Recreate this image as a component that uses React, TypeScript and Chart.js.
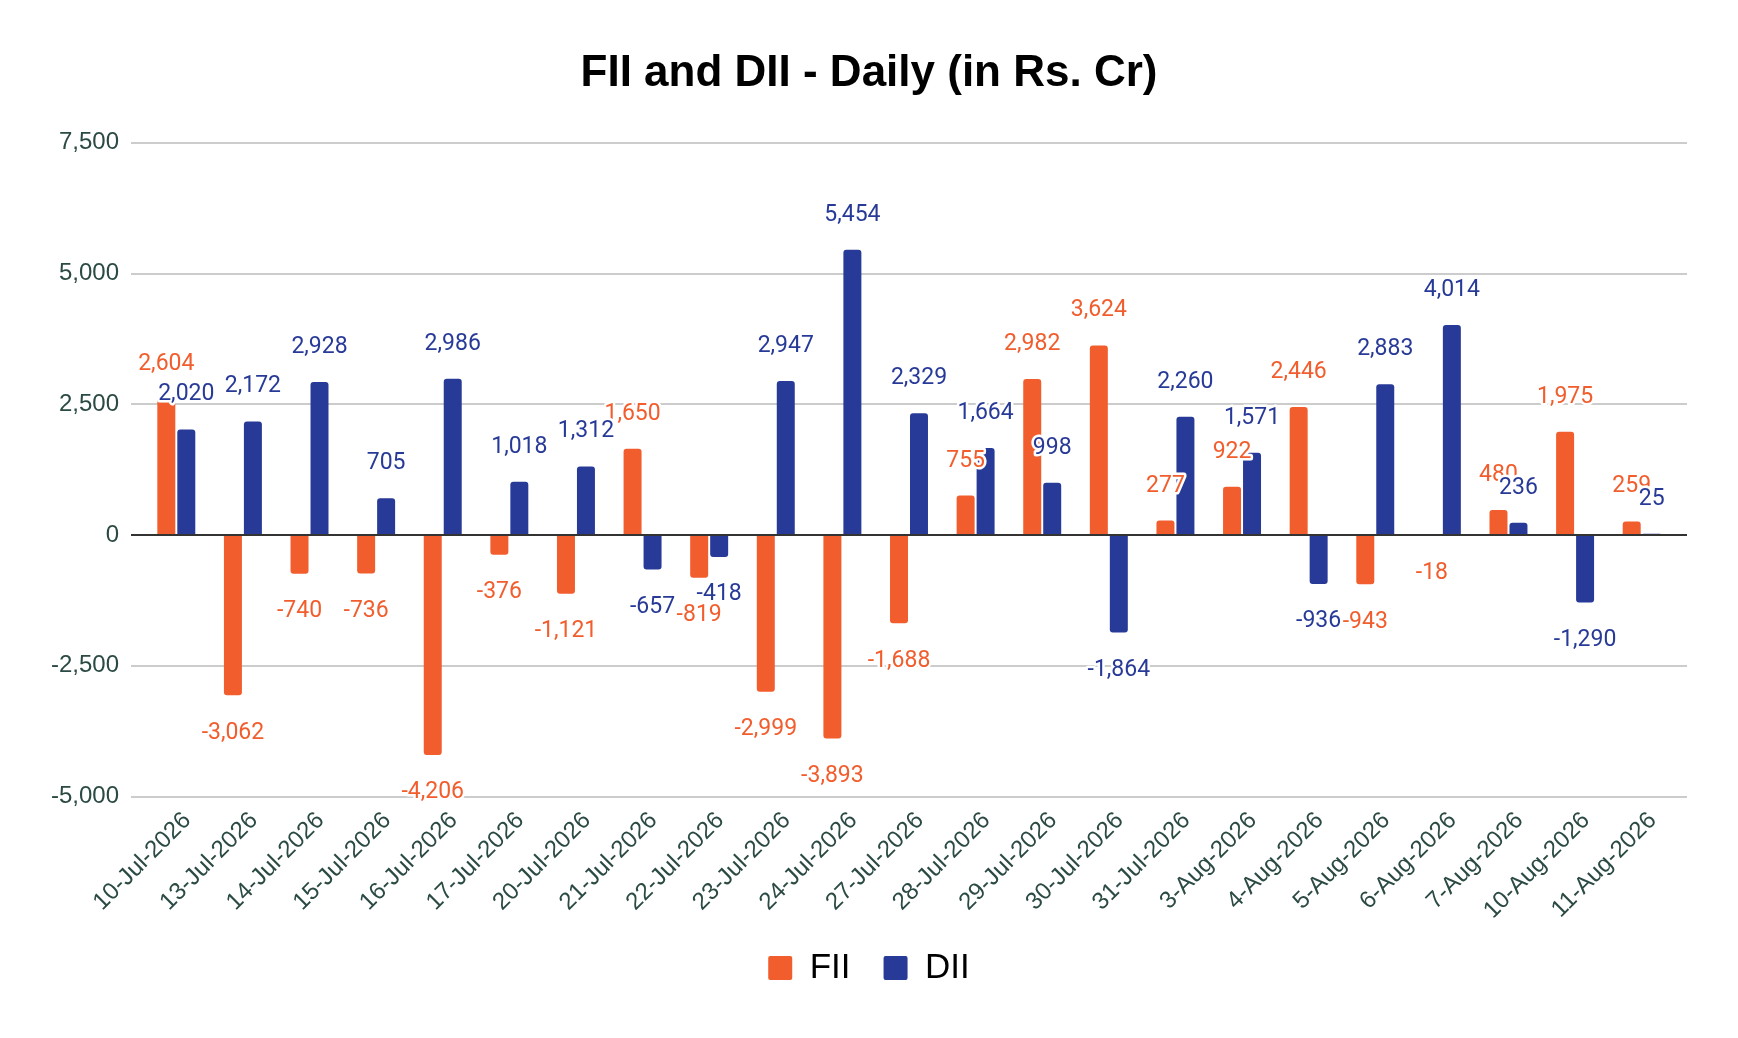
import { useEffect, useRef } from 'react';
import { Chart, registerables } from 'chart.js';

Chart.register(...registerables);

// daily net flows, Rs. Cr
const dates = [
  '10-Jul-2026', '13-Jul-2026', '14-Jul-2026', '15-Jul-2026', '16-Jul-2026', '17-Jul-2026',
  '20-Jul-2026', '21-Jul-2026', '22-Jul-2026', '23-Jul-2026', '24-Jul-2026', '27-Jul-2026',
  '28-Jul-2026', '29-Jul-2026', '30-Jul-2026', '31-Jul-2026', '3-Aug-2026', '4-Aug-2026',
  '5-Aug-2026', '6-Aug-2026', '7-Aug-2026', '10-Aug-2026', '11-Aug-2026',
];
const fiiValues = [
  2604, -3062, -740, -736, -4206, -376, -1121, 1650, -819, -2999, -3893, -1688,
  755, 2982, 3624, 277, 922, 2446, -943, -18, 480, 1975, 259,
];
const diiValues = [
  2020, 2172, 2928, 705, 2986, 1018, 1312, -657, -418, 2947, 5454, 2329,
  1664, 998, -1864, 2260, 1571, -936, 2883, 4014, 236, -1290, 25,
];
const yMin = -5000;
const yMax = 7500;
const yStep = 2500;

const FII_COLOR = '#f15d2c';
const DII_COLOR = '#283a97';
const AXIS_TEXT = '#2b4a44';
const SANS = "'Liberation Sans', Arial, sans-serif";

// gridlines wider than the plot, dark zero line, value labels with a white halo
const barDecor = {
  id: 'barDecor',
  beforeDatasetsDraw(chart: any) {
    const { ctx, chartArea, scales } = chart;
    const y = scales.y;
    ctx.save();
    ctx.strokeStyle = '#cccccc';
    ctx.lineWidth = 2;
    y.ticks.forEach((t: any) => {
      if (t.value === 0) return;
      const py = Math.round(y.getPixelForValue(t.value));
      ctx.beginPath();
      ctx.moveTo(chartArea.left - 12, py);
      ctx.lineTo(chartArea.right + 12, py);
      ctx.stroke();
    });
    ctx.restore();
  },
  afterDatasetsDraw(chart: any) {
    const { ctx, chartArea, scales } = chart;
    const zy = Math.round(scales.y.getPixelForValue(0));
    ctx.save();
    ctx.strokeStyle = '#333333';
    ctx.lineWidth = 2;
    ctx.beginPath();
    ctx.moveTo(chartArea.left - 12, zy);
    ctx.lineTo(chartArea.right + 12, zy);
    ctx.stroke();

    ctx.font = "23px Roboto, 'Noto Sans', sans-serif";
    ctx.textAlign = 'center';
    ctx.textBaseline = 'alphabetic';
    ctx.lineJoin = 'round';
    ctx.lineWidth = 5;
    ctx.strokeStyle = '#ffffff';
    chart.data.datasets.forEach((ds: any, di: number) => {
      const meta = chart.getDatasetMeta(di);
      ctx.fillStyle = ds.backgroundColor;
      meta.data.forEach((bar: any, i: number) => {
        const v = ds.data[i] as number;
        const text = v.toLocaleString('en-US');
        const ty = v >= 0 ? bar.y - 29 : bar.y + 43.5;
        ctx.strokeText(text, bar.x, ty);
        ctx.fillText(text, bar.x, ty);
      });
    });
    ctx.restore();
  },
};

const FlowsChart = () => {
  const chartRef = useRef<HTMLCanvasElement>(null);
  const chartInstance = useRef<Chart | null>(null);

  useEffect(() => {
    document.body.style.margin = '0';
    if (!chartRef.current) return;
    if (chartInstance.current) chartInstance.current.destroy();

    chartInstance.current = new Chart(chartRef.current, {
      type: 'bar',
      data: {
        labels: dates,
        datasets: [
          {
            label: 'FII',
            data: fiiValues,
            backgroundColor: FII_COLOR,
            borderWidth: 0,
            borderRadius: 3,
            categoryPercentage: 0.6,
            barPercentage: 0.9,
          },
          {
            label: 'DII',
            data: diiValues,
            backgroundColor: DII_COLOR,
            borderWidth: 0,
            borderRadius: 3,
            categoryPercentage: 0.6,
            barPercentage: 0.9,
          },
        ],
      },
      options: {
        responsive: true,
        maintainAspectRatio: false,
        animation: false,
        layout: { padding: { left: 0, right: 0, top: 0, bottom: 42.5 } },
        scales: {
          x: {
            grid: { display: false },
            border: { display: false },
            ticks: {
              color: AXIS_TEXT,
              font: { family: SANS, size: 24 },
              maxRotation: 45,
              minRotation: 45,
              autoSkip: false,
              padding: 2,
              labelOffset: 11,
            },
            afterFit: (scale: any) => {
              scale.height = 121;
            },
          },
          y: {
            min: yMin,
            max: yMax,
            grid: { display: false, drawTicks: false },
            border: { display: false },
            ticks: {
              stepSize: yStep,
              color: AXIS_TEXT,
              font: { family: SANS, size: 24 },
              padding: 24,
              callback: (v: any) => Number(v).toLocaleString('en-US'),
            },
            afterFit: (scale: any) => {
              scale.width = 143;
            },
          },
          // empty right-hand axis, only reserves the right margin
          yRight: {
            position: 'right',
            grid: { display: false },
            border: { display: false },
            ticks: { display: false },
            afterFit: (scale: any) => {
              scale.width = 63;
            },
          },
        },
        plugins: {
          title: {
            display: true,
            text: 'FII and DII - Daily (in Rs. Cr)',
            color: '#000000',
            font: { family: SANS, size: 44, weight: 'bold' },
            padding: { top: 47, bottom: 43 },
          },
          legend: {
            position: 'bottom',
            labels: {
              boxWidth: 24,
              boxHeight: 24,
              padding: 33,
              color: '#000000',
              font: { family: SANS, size: 35 },
              useBorderRadius: true,
              borderRadius: 2,
            },
          },
          tooltip: { enabled: false },
        },
      },
      plugins: [barDecor],
    });

    return () => {
      if (chartInstance.current) {
        chartInstance.current.destroy();
        chartInstance.current = null;
      }
    };
  }, []);

  return (
    <div style={{ position: 'relative', width: 1738, height: 1038 }}>
      <canvas ref={chartRef} />
    </div>
  );
};

export default function App() {
  return <FlowsChart />;
}
